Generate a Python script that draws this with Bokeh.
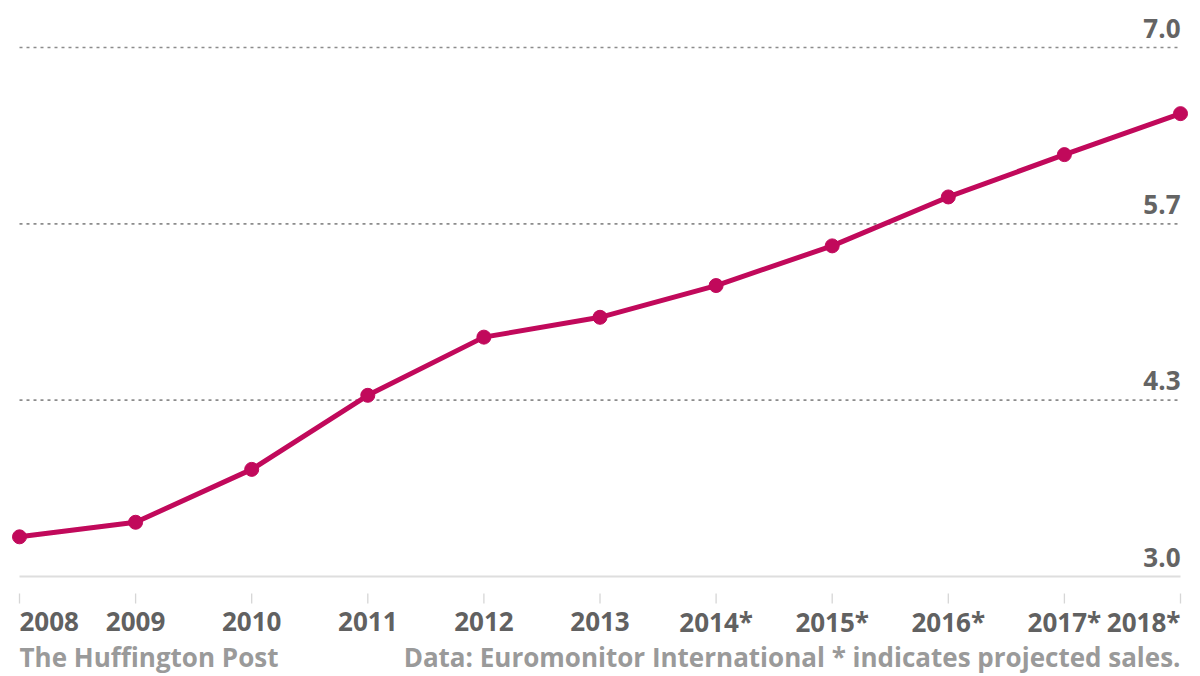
from bokeh.plotting import figure
from bokeh.models import Range1d, ColumnDataSource
from bokeh.core.properties import value
from bokeh.embed import file_html
from bokeh.resources import INLINE

# ---- data ----
years = ["2008", "2009", "2010", "2011", "2012", "2013",
         "2014*", "2015*", "2016*", "2017*", "2018*"]
sales = [3.30, 3.41, 3.81, 4.37, 4.81, 4.96, 5.20, 5.50, 5.87, 6.19, 6.50]
y_ticks = [3.0, 13 / 3, 17 / 3, 7.0]
y_tick_labels = ["3.0", "4.3", "5.7", "7.0"]
source_left = "The Huffington Post"
source_right = "Data: Euromonitor International * indicates projected sales."

# ---- layout ----
W, H = 1200, 676
x_px0, x_px1 = 19, 1180          # pixel position of first / last year
y_px_lo, y_px_hi = 576, 47       # pixel position of 3.0 / 7.0
n = len(years)
ppx = (x_px1 - x_px0) / (n - 1)
ppy = (y_px_lo - y_px_hi) / (y_ticks[-1] - y_ticks[0])
x_start = 0 - x_px0 / ppx
x_end = (n - 1) + (W - x_px1) / ppx
y_end = y_ticks[-1] + y_px_hi / ppy
y_start = y_ticks[0] - (H - y_px_lo) / ppy

p = figure(width=W, height=H, output_backend="svg", toolbar_location=None,
           x_range=Range1d(x_start, x_end), y_range=Range1d(y_start, y_end),
           min_border=0, outline_line_color=None)
p.axis.visible = False
p.grid.visible = False
p.background_fill_color = "white"
p.border_fill_color = "white"

FONT = value("Open Sans")
FS = "26px"
LINE = "#c1095b"
xs = list(range(n))
x_first, x_last = xs[0], xs[-1]

# gridlines (dotted) except baseline
p.segment(x0=[x_first] * 3, x1=[x_last] * 3, y0=y_ticks[1:], y1=y_ticks[1:],
          line_color="#8c8c8c", line_width=1.6, line_dash="3 4")
# baseline
p.segment(x0=[x_first], x1=[x_last], y0=[y_ticks[0]], y1=[y_ticks[0]],
          line_color="#dedede", line_width=2)
# tick marks
t0 = y_ticks[0] - 17 / ppy
t1 = y_ticks[0] - 27 / ppy
p.segment(x0=xs, x1=xs, y0=[t0] * n, y1=[t1] * n, line_color="#d6d6d6", line_width=1.3)

# y labels
p.text(x=[x_last] * len(y_ticks), y=y_ticks, text=y_tick_labels,
       text_align="right", text_baseline="bottom", y_offset=-10,
       text_font=FONT, text_font_style="bold", text_font_size=FS,
       text_color="#646464")

# x labels
aligns = ["left"] + ["center"] * (n - 2) + ["right"]
src = ColumnDataSource(dict(x=xs, y=[y_ticks[0]] * n, t=years, a=aligns))
p.text(x="x", y="y", text="t", text_align="a", source=src,
       text_baseline="alphabetic", y_offset=45,
       text_font=FONT, text_font_style="bold", text_font_size=FS,
       text_color="#616161")

# footer
p.text(x=[x_first], y=[y_ticks[0]], text=[source_left], text_align="left",
       text_baseline="alphabetic", y_offset=80,
       text_font=FONT, text_font_style="bold", text_font_size=FS,
       text_color="#9a9a9a")
p.text(x=[x_last], y=[y_ticks[0]], text=[source_right], text_align="right",
       text_baseline="alphabetic", y_offset=80,
       text_font=FONT, text_font_style="bold", text_font_size=FS,
       text_color="#9a9a9a")

# series
p.line(xs, sales, line_color=LINE, line_width=5, line_join="round")
p.scatter(xs, sales, size=14, fill_color=LINE, line_color=LINE)

open("out.html", "w").write(file_html(p, INLINE))
